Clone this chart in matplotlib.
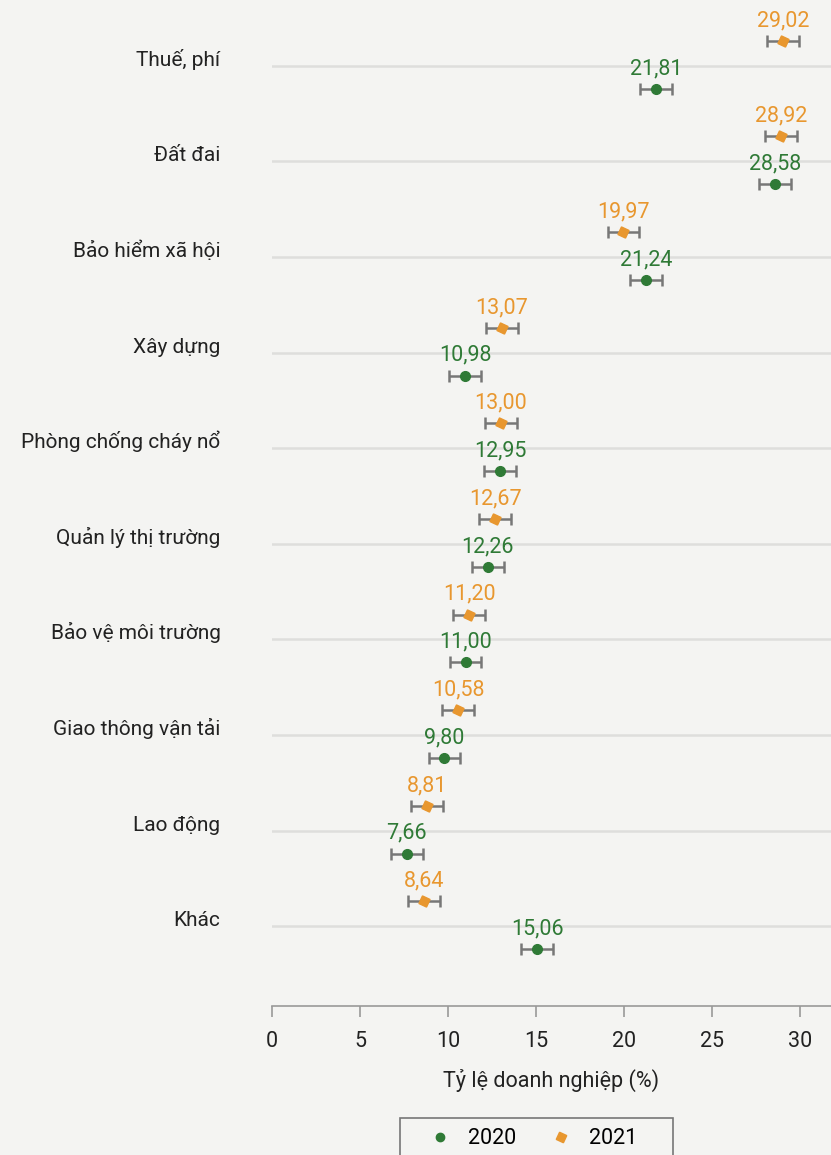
import matplotlib
matplotlib.use("Agg")
import matplotlib.pyplot as plt
from matplotlib import font_manager
from matplotlib.lines import Line2D
from matplotlib.patches import Rectangle

categories = ["Thuế, phí", "Đất đai", "Bảo hiểm xã hội", "Xây dựng", "Phòng chống cháy nổ",
              "Quản lý thị trường", "Bảo vệ môi trường", "Giao thông vận tải", "Lao động", "Khác"]
v2020 = [21.81, 28.58, 21.24, 10.98, 12.95, 12.26, 11.00, 9.80, 7.66, 15.06]
v2021 = [29.02, 28.92, 19.97, 13.07, 13.00, 12.67, 11.20, 10.58, 8.81, 8.64]
err2020 = [0.9] * 10
err2021 = [0.9] * 10
xticks = [0, 5, 10, 15, 20, 25, 30]

names = {f.name for f in font_manager.fontManager.ttflist}
fam = [f for f in ["Liberation Sans Narrow", "Roboto", "DejaVu Sans"] if f in names]
plt.rcParams['font.family'] = fam

BG = "#f4f4f2"
GREEN = "#2f7a36"
ORANGE = "#e8972f"
GRAY = "#777777"

def fmt(v):
    return f"{v:.2f}".replace(".", ",")

W, H = 831, 1155
fig = plt.figure(figsize=(W/100, H/100), dpi=100, facecolor=BG)
ax = fig.add_axes([272/W, 1 - 1006/H, 1 - 272/W, 1006/H])
ax.set_facecolor(BG)

ypos = list(range(len(categories)))
for y in ypos:
    ax.axhline(y, color="#dededc", lw=1.8, zorder=0)

y21 = [y - 0.26 for y in ypos]
y20 = [y + 0.24 for y in ypos]

ax.errorbar(v2021, y21, xerr=err2021, fmt='none', ecolor=GRAY, elinewidth=1.8, capsize=4.5, capthick=1.8, zorder=2)
ax.errorbar(v2020, y20, xerr=err2020, fmt='none', ecolor=GRAY, elinewidth=1.8, capsize=4.5, capthick=1.8, zorder=2)
ax.plot(v2021, y21, linestyle='none', marker=(4, 0, 20), markersize=8.5, color=ORANGE, zorder=3)
ax.plot(v2020, y20, linestyle='none', marker='o', markersize=7, color=GREEN, zorder=3)

for x, y in zip(v2021, y21):
    ax.annotate(fmt(x), (x, y), xytext=(0, 7), textcoords='offset points', ha='center', va='bottom',
                color=ORANGE, fontsize=15.5)
for x, y in zip(v2020, y20):
    ax.annotate(fmt(x), (x, y), xytext=(0, 7), textcoords='offset points', ha='center', va='bottom',
                color=GREEN, fontsize=15.5)

ax.set_xlim(0, 31.76)
ax.set_ylim(9 + 80/96, -66/96)
ax.set_yticks(ypos)
ax.set_yticklabels(categories, fontsize=15, color="#222222")
for lab in ax.get_yticklabels():
    lab.set_verticalalignment('baseline')
ax.tick_params(axis='y', length=0, pad=37)
ax.set_xticks(xticks)
ax.set_xticklabels([str(t) for t in xticks], fontsize=15.5, color="#222222")
ax.tick_params(axis='x', length=8, width=1.2, color="#999999", pad=10)
for s in ["top", "right", "left"]:
    ax.spines[s].set_visible(False)
ax.spines["bottom"].set_color("#999999")
ax.spines["bottom"].set_linewidth(1.2)
ax.set_xlabel("Tỷ lệ doanh nghiệp (%)", fontsize=15.5, color="#222222", labelpad=12)

# legend box (extends past the bottom edge as in the reference)
fig.patches.append(Rectangle((400/W, -0.01), 273/W, 0.01 + 1 - 1118/H, transform=fig.transFigure,
                             facecolor='none', edgecolor=GRAY, linewidth=1.2))
handles = [Line2D([], [], linestyle='none', marker='o', markersize=6, color=GREEN),
           Line2D([], [], linestyle='none', marker=(4, 0, 20), markersize=8, color=ORANGE)]
leg = fig.legend(handles, ["2020", "2021"], ncol=2, loc='center left',
                 bbox_to_anchor=(429/W, 1 - 1139/H), frameon=False, fontsize=15.5,
                 handletextpad=0.8, columnspacing=1.6, borderpad=0, handlelength=1.0,
                 borderaxespad=0)

fig.savefig("out.png", dpi=100, facecolor=BG)
